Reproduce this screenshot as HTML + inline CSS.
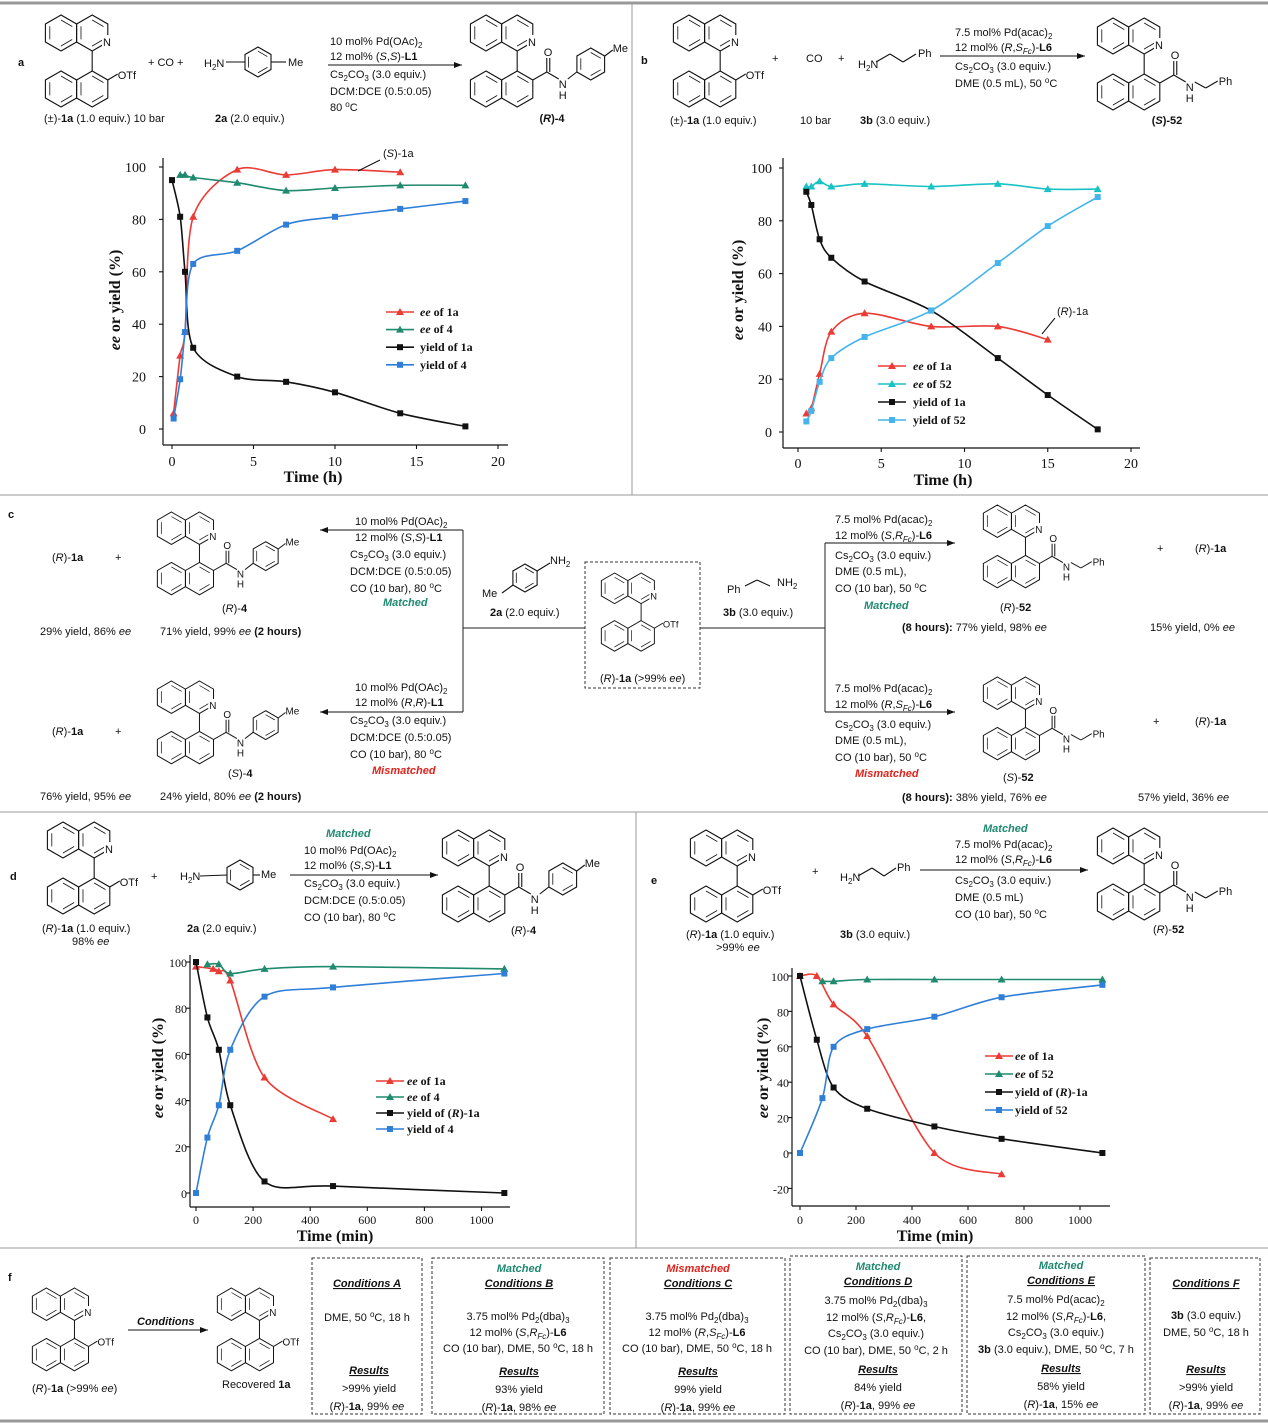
<!DOCTYPE html>
<html><head><meta charset="utf-8"><style>
html,body{margin:0;padding:0;background:#fff}
svg{display:block}
.s{font-family:"Liberation Sans",sans-serif;font-size:11px;fill:#111}
.c{font-family:"Liberation Serif",serif;font-size:14px;fill:#111}
.cs{font-family:"Liberation Serif",serif;font-size:12px;fill:#111}
.lg{font-family:"Liberation Serif",serif;font-size:12px;fill:#111;font-weight:bold}
.ax{font-family:"Liberation Serif",serif;font-size:16px;font-weight:bold;fill:#111}
.b{font-weight:bold}.i{font-style:italic}
.g{fill:#1f8a70;font-weight:bold;font-style:italic}
.r{fill:#e0231c;font-weight:bold;font-style:italic}
.m{text-anchor:middle}
</style></head><body>
<svg id="s" width="1268" height="1426" viewBox="0 0 1268 1426" xmlns="http://www.w3.org/2000/svg">
<rect width="1268" height="1426" fill="#fff"/>
<g stroke="#999" fill="none">
<line x1="0" y1="3" x2="1268" y2="3" stroke-width="3"/>
<line x1="632" y1="3" x2="632" y2="495"/>
<line x1="0" y1="495" x2="1268" y2="495"/>
<line x1="0" y1="812" x2="1268" y2="812"/>
<line x1="636" y1="812" x2="636" y2="1248"/>
<line x1="0" y1="1248" x2="1268" y2="1248"/>
<line x1="0" y1="1421" x2="1268" y2="1421" stroke-width="3"/>
</g>
<g stroke="#333" fill="none" stroke-dasharray="3,2">
<rect x="312" y="1258" width="110" height="156"/>
<rect x="432" y="1258" width="172" height="156"/>
<rect x="610" y="1258" width="175" height="156"/>
<rect x="790" y="1256" width="172" height="158"/>
<rect x="967" y="1256" width="178" height="158"/>
<rect x="1150" y="1258" width="110" height="156"/>
<rect x="585" y="562" width="115" height="126"/>
</g>
<g id="mols"></g>
<g id="charts"></g>
<g stroke="#222" fill="none" stroke-width="1">
<line x1="463" y1="530" x2="463" y2="712"/><line x1="463" y1="628" x2="585" y2="628"/>
<line x1="700" y1="628" x2="825" y2="628"/><line x1="825" y1="543" x2="825" y2="712"/>
</g>

<!-- Panel a -->
<text class="s b" x="18" y="66">a</text>
<text class="s" x="44" y="122">(±)-<tspan class="b">1a</tspan> (1.0  equiv.)  10 bar</text>
<text class="s" x="215" y="122"><tspan class="b">2a</tspan> (2.0  equiv.)</text>
<text class="s" x="148" y="66">+  CO  +</text>
<text class="s" x="204" y="67">H<tspan font-size="8" dy="3">2</tspan><tspan dy="-3">N</tspan></text>
<text class="s" x="288" y="66">Me</text>
<text class="s" x="330" y="45">10 mol% Pd(OAc)<tspan font-size="8" dy="3">2</tspan></text>
<text class="s" x="330" y="60">12 mol% (<tspan class="i">S</tspan>,<tspan class="i">S</tspan>)-<tspan class="b">L1</tspan></text>
<text class="s" x="330" y="78">Cs<tspan font-size="8" dy="3">2</tspan><tspan dy="-3">CO</tspan><tspan font-size="8" dy="3">3</tspan><tspan dy="-3"> (3.0 equiv.)</tspan></text>
<text class="s" x="330" y="95">DCM:DCE (0.5:0.05)</text>
<text class="s" x="330" y="111">80 <tspan font-size="8" dy="-4">o</tspan><tspan dy="4">C</tspan></text>
<text class="s b m" x="552" y="122">(<tspan class="i">R</tspan>)-4</text>
<text class="s" x="383" y="157">(<tspan class="i">S</tspan>)-1a</text>
<text class="lg" x="420" y="316"><tspan class="i">ee</tspan> of 1a</text>
<text class="lg" x="420" y="333"><tspan class="i">ee</tspan> of 4</text>
<text class="lg" x="420" y="351">yield of 1a</text>
<text class="lg" x="420" y="369">yield of 4</text>
<text class="ax m" x="313" y="482">Time (h)</text>
<text class="ax m" transform="translate(120,300) rotate(-90)"><tspan class="i">ee</tspan> or yield (%)</text>

<!-- Panel b -->
<text class="s b" x="641" y="64">b</text>
<text class="s" x="670" y="124">(±)-<tspan class="b">1a</tspan> (1.0  equiv.)</text>
<text class="s" x="800" y="124">10 bar</text>
<text class="s" x="860" y="124"><tspan class="b">3b</tspan> (3.0  equiv.)</text>
<text class="s" x="772" y="62">+</text><text class="s" x="806" y="62">CO</text><text class="s" x="838" y="62">+</text>
<text class="s" x="858" y="68">H<tspan font-size="8" dy="3">2</tspan><tspan dy="-3">N</tspan></text>
<text class="s" x="918" y="57">Ph</text>
<text class="s" x="955" y="36">7.5 mol% Pd(acac)<tspan font-size="8" dy="3">2</tspan></text>
<text class="s" x="955" y="51">12 mol% (<tspan class="i">R</tspan>,<tspan class="i">S</tspan><tspan font-size="8" dy="3" class="i">Fc</tspan><tspan dy="-3">)-</tspan><tspan class="b">L6</tspan></text>
<text class="s" x="955" y="70">Cs<tspan font-size="8" dy="3">2</tspan><tspan dy="-3">CO</tspan><tspan font-size="8" dy="3">3</tspan><tspan dy="-3"> (3.0 equiv.)</tspan></text>
<text class="s" x="955" y="87">DME (0.5 mL), 50 <tspan font-size="8" dy="-4">o</tspan><tspan dy="4">C</tspan></text>
<text class="s b m" x="1167" y="124">(<tspan class="i">S</tspan>)-52</text>
<text class="s" x="1057" y="315">(<tspan class="i">R</tspan>)-1a</text>
<text class="lg" x="913" y="370"><tspan class="i">ee</tspan> of 1a</text>
<text class="lg" x="913" y="388"><tspan class="i">ee</tspan> of 52</text>
<text class="lg" x="913" y="406">yield of 1a</text>
<text class="lg" x="913" y="424">yield of 52</text>
<text class="ax m" x="943" y="485">Time (h)</text>
<text class="ax m" transform="translate(743,290) rotate(-90)"><tspan class="i">ee</tspan> or yield (%)</text>

<!-- Panel c -->
<text class="s b" x="8" y="518">c</text>
<text class="s" x="52" y="561">(<tspan class="i">R</tspan>)-<tspan class="b">1a</tspan></text><text class="s" x="115" y="561">+</text>
<text class="s" x="222" y="612">(<tspan class="i">R</tspan>)-<tspan class="b">4</tspan></text>
<text class="s" x="355" y="525">10 mol% Pd(OAc)<tspan font-size="8" dy="3">2</tspan></text>
<text class="s" x="355" y="541">12 mol% (<tspan class="i">S</tspan>,<tspan class="i">S</tspan>)-<tspan class="b">L1</tspan></text>
<text class="s" x="350" y="558">Cs<tspan font-size="8" dy="3">2</tspan><tspan dy="-3">CO</tspan><tspan font-size="8" dy="3">3</tspan><tspan dy="-3"> (3.0 equiv.)</tspan></text>
<text class="s" x="350" y="575">DCM:DCE (0.5:0.05)</text>
<text class="s" x="350" y="592">CO (10 bar), 80 <tspan font-size="8" dy="-4">o</tspan><tspan dy="4">C</tspan></text>
<text class="s g" x="383" y="606">Matched</text>
<text class="s" x="40" y="635">29% yield, 86% <tspan class="i">ee</tspan></text>
<text class="s" x="160" y="635">71% yield, 99% <tspan class="i">ee</tspan>  <tspan class="b">(2 hours)</tspan></text>
<text class="s" x="52" y="735">(<tspan class="i">R</tspan>)-<tspan class="b">1a</tspan></text><text class="s" x="115" y="735">+</text>
<text class="s" x="228" y="777">(<tspan class="i">S</tspan>)-<tspan class="b">4</tspan></text>
<text class="s" x="355" y="691">10 mol% Pd(OAc)<tspan font-size="8" dy="3">2</tspan></text>
<text class="s" x="355" y="706">12 mol% (<tspan class="i">R</tspan>,<tspan class="i">R</tspan>)-<tspan class="b">L1</tspan></text>
<text class="s" x="350" y="724">Cs<tspan font-size="8" dy="3">2</tspan><tspan dy="-3">CO</tspan><tspan font-size="8" dy="3">3</tspan><tspan dy="-3"> (3.0 equiv.)</tspan></text>
<text class="s" x="350" y="741">DCM:DCE (0.5:0.05)</text>
<text class="s" x="350" y="758">CO (10 bar), 80 <tspan font-size="8" dy="-4">o</tspan><tspan dy="4">C</tspan></text>
<text class="s r" x="372" y="774">Mismatched</text>
<text class="s" x="40" y="800">76% yield, 95% <tspan class="i">ee</tspan></text>
<text class="s" x="160" y="800">24% yield, 80% <tspan class="i">ee</tspan>  <tspan class="b">(2 hours)</tspan></text>
<text class="s" x="482" y="597">Me</text>
<text class="s" x="550" y="564">NH<tspan font-size="8" dy="3">2</tspan></text>
<text class="s" x="490" y="616"><tspan class="b">2a</tspan> (2.0  equiv.)</text>
<text class="s" x="600" y="682">(<tspan class="i">R</tspan>)-<tspan class="b">1a</tspan> (&gt;99% <tspan class="i">ee</tspan>)</text>
<text class="s" x="727" y="593">Ph</text>
<text class="s" x="777" y="586">NH<tspan font-size="8" dy="3">2</tspan></text>
<text class="s" x="723" y="616"><tspan class="b">3b</tspan> (3.0  equiv.)</text>
<text class="s" x="835" y="523">7.5 mol% Pd(acac)<tspan font-size="8" dy="3">2</tspan></text>
<text class="s" x="835" y="539">12 mol% (<tspan class="i">S</tspan>,<tspan class="i">R</tspan><tspan font-size="8" dy="3" class="i">Fc</tspan><tspan dy="-3">)-</tspan><tspan class="b">L6</tspan></text>
<text class="s" x="835" y="559">Cs<tspan font-size="8" dy="3">2</tspan><tspan dy="-3">CO</tspan><tspan font-size="8" dy="3">3</tspan><tspan dy="-3"> (3.0 equiv.)</tspan></text>
<text class="s" x="835" y="575">DME (0.5 mL),</text>
<text class="s" x="835" y="592">CO (10 bar), 50 <tspan font-size="8" dy="-4">o</tspan><tspan dy="4">C</tspan></text>
<text class="s g" x="864" y="609">Matched</text>
<text class="s" x="1000" y="611">(<tspan class="i">R</tspan>)-<tspan class="b">52</tspan></text>
<text class="s" x="1157" y="552">+</text><text class="s" x="1195" y="552">(<tspan class="i">R</tspan>)-<tspan class="b">1a</tspan></text>
<text class="s" x="902" y="631"><tspan class="b">(8 hours):</tspan>  77% yield, 98% <tspan class="i">ee</tspan></text>
<text class="s" x="1150" y="631">15% yield, 0% <tspan class="i">ee</tspan></text>
<text class="s" x="835" y="692">7.5 mol% Pd(acac)<tspan font-size="8" dy="3">2</tspan></text>
<text class="s" x="835" y="708">12 mol% (<tspan class="i">R</tspan>,<tspan class="i">S</tspan><tspan font-size="8" dy="3" class="i">Fc</tspan><tspan dy="-3">)-</tspan><tspan class="b">L6</tspan></text>
<text class="s" x="835" y="728">Cs<tspan font-size="8" dy="3">2</tspan><tspan dy="-3">CO</tspan><tspan font-size="8" dy="3">3</tspan><tspan dy="-3"> (3.0 equiv.)</tspan></text>
<text class="s" x="835" y="744">DME (0.5 mL),</text>
<text class="s" x="835" y="761">CO (10 bar), 50 <tspan font-size="8" dy="-4">o</tspan><tspan dy="4">C</tspan></text>
<text class="s r" x="855" y="777">Mismatched</text>
<text class="s" x="1003" y="781">(<tspan class="i">S</tspan>)-<tspan class="b">52</tspan></text>
<text class="s" x="1153" y="725">+</text><text class="s" x="1195" y="725">(<tspan class="i">R</tspan>)-<tspan class="b">1a</tspan></text>
<text class="s" x="902" y="801"><tspan class="b">(8 hours):</tspan>  38% yield, 76% <tspan class="i">ee</tspan></text>
<text class="s" x="1138" y="801">57% yield, 36% <tspan class="i">ee</tspan></text>

<!-- Panel d -->
<text class="s b" x="10" y="880">d</text>
<text class="s" x="42" y="932">(<tspan class="i">R</tspan>)-<tspan class="b">1a</tspan> (1.0  equiv.)</text>
<text class="s" x="72" y="945">98% <tspan class="i">ee</tspan></text>
<text class="s" x="151" y="880">+</text>
<text class="s" x="180" y="880">H<tspan font-size="8" dy="3">2</tspan><tspan dy="-3">N</tspan></text>
<text class="s" x="261" y="878">Me</text>
<text class="s" x="187" y="932"><tspan class="b">2a</tspan> (2.0  equiv.)</text>
<text class="s g" x="326" y="837">Matched</text>
<text class="s" x="304" y="854">10 mol% Pd(OAc)<tspan font-size="8" dy="3">2</tspan></text>
<text class="s" x="304" y="869">12 mol% (<tspan class="i">S</tspan>,<tspan class="i">S</tspan>)-<tspan class="b">L1</tspan></text>
<text class="s" x="304" y="887">Cs<tspan font-size="8" dy="3">2</tspan><tspan dy="-3">CO</tspan><tspan font-size="8" dy="3">3</tspan><tspan dy="-3"> (3.0 equiv.)</tspan></text>
<text class="s" x="304" y="904">DCM:DCE (0.5:0.05)</text>
<text class="s" x="304" y="921">CO (10 bar), 80 <tspan font-size="8" dy="-4">o</tspan><tspan dy="4">C</tspan></text>
<text class="s" x="511" y="934">(<tspan class="i">R</tspan>)-<tspan class="b">4</tspan></text>
<text class="lg" x="407" y="1085"><tspan class="i">ee</tspan> of 1a</text>
<text class="lg" x="407" y="1101"><tspan class="i">ee</tspan> of 4</text>
<text class="lg" x="407" y="1117">yield of (<tspan class="i">R</tspan>)-1a</text>
<text class="lg" x="407" y="1133">yield of 4</text>
<text class="ax m" x="335" y="1241" font-size="14">Time (min)</text>
<text class="ax m" font-size="14" transform="translate(163,1068) rotate(-90)"><tspan class="i">ee</tspan> or yield (%)</text>

<!-- Panel e -->
<text class="s b" x="651" y="884">e</text>
<text class="s" x="686" y="938">(<tspan class="i">R</tspan>)-<tspan class="b">1a</tspan> (1.0  equiv.)</text>
<text class="s" x="716" y="951">&gt;99% <tspan class="i">ee</tspan></text>
<text class="s" x="812" y="875">+</text>
<text class="s" x="840" y="881">H<tspan font-size="8" dy="3">2</tspan><tspan dy="-3">N</tspan></text>
<text class="s" x="897" y="871">Ph</text>
<text class="s" x="840" y="938"><tspan class="b">3b</tspan> (3.0  equiv.)</text>
<text class="s g" x="983" y="832">Matched</text>
<text class="s" x="955" y="848">7.5 mol% Pd(acac)<tspan font-size="8" dy="3">2</tspan></text>
<text class="s" x="955" y="863">12 mol% (<tspan class="i">S</tspan>,<tspan class="i">R</tspan><tspan font-size="8" dy="3" class="i">Fc</tspan><tspan dy="-3">)-</tspan><tspan class="b">L6</tspan></text>
<text class="s" x="955" y="884">Cs<tspan font-size="8" dy="3">2</tspan><tspan dy="-3">CO</tspan><tspan font-size="8" dy="3">3</tspan><tspan dy="-3"> (3.0 equiv.)</tspan></text>
<text class="s" x="955" y="901">DME (0.5 mL)</text>
<text class="s" x="955" y="918">CO (10 bar), 50 <tspan font-size="8" dy="-4">o</tspan><tspan dy="4">C</tspan></text>
<text class="s" x="1153" y="933">(<tspan class="i">R</tspan>)-<tspan class="b">52</tspan></text>
<text class="lg" x="1015" y="1060"><tspan class="i">ee</tspan> of 1a</text>
<text class="lg" x="1015" y="1078"><tspan class="i">ee</tspan> of 52</text>
<text class="lg" x="1015" y="1096">yield of (<tspan class="i">R</tspan>)-1a</text>
<text class="lg" x="1015" y="1114">yield of 52</text>
<text class="ax m" x="935" y="1241" font-size="14">Time (min)</text>
<text class="ax m" font-size="14" transform="translate(768,1068) rotate(-90)"><tspan class="i">ee</tspan> or yield (%)</text>

<!-- Panel f -->
<text class="s b" x="8" y="1281">f</text>
<text class="s" x="32" y="1392">(<tspan class="i">R</tspan>)-<tspan class="b">1a</tspan> (&gt;99% <tspan class="i">ee</tspan>)</text>
<text class="s b i" x="137" y="1325">Conditions</text>
<text class="s" x="222" y="1388">Recovered <tspan class="b">1a</tspan></text>
<g class="s m">
<text class="s b i m" x="367" y="1287" text-decoration="underline">Conditions A</text>
<text class="s m" x="367" y="1321">DME, 50 <tspan font-size="8" dy="-4">o</tspan><tspan dy="4">C, 18 h</tspan></text>
<text class="s b i m" x="369" y="1374" text-decoration="underline">Results</text>
<text class="s m" x="369" y="1392">&gt;99% yield</text>
<text class="s m" x="367" y="1410">(<tspan class="i">R</tspan>)-<tspan class="b">1a</tspan>, 99% <tspan class="i">ee</tspan></text>

<text class="s g m" x="519" y="1272">Matched</text>
<text class="s b i m" x="519" y="1287" text-decoration="underline">Conditions B</text>
<text class="s m" x="518" y="1320">3.75 mol% Pd<tspan font-size="8" dy="3">2</tspan><tspan dy="-3">(dba)</tspan><tspan font-size="8" dy="3">3</tspan></text>
<text class="s m" x="518" y="1336">12 mol% (<tspan class="i">S</tspan>,<tspan class="i">R</tspan><tspan font-size="8" dy="3" class="i">Fc</tspan><tspan dy="-3">)-</tspan><tspan class="b">L6</tspan></text>
<text class="s m" x="518" y="1352">CO (10 bar), DME, 50 <tspan font-size="8" dy="-4">o</tspan><tspan dy="4">C, 18 h</tspan></text>
<text class="s b i m" x="519" y="1375" text-decoration="underline">Results</text>
<text class="s m" x="519" y="1393">93% yield</text>
<text class="s m" x="519" y="1411">(<tspan class="i">R</tspan>)-<tspan class="b">1a</tspan>, 98% <tspan class="i">ee</tspan></text>

<text class="s r m" x="698" y="1272">Mismatched</text>
<text class="s b i m" x="698" y="1287" text-decoration="underline">Conditions C</text>
<text class="s m" x="697" y="1320">3.75 mol% Pd<tspan font-size="8" dy="3">2</tspan><tspan dy="-3">(dba)</tspan><tspan font-size="8" dy="3">3</tspan></text>
<text class="s m" x="697" y="1336">12 mol% (<tspan class="i">R</tspan>,<tspan class="i">S</tspan><tspan font-size="8" dy="3" class="i">Fc</tspan><tspan dy="-3">)-</tspan><tspan class="b">L6</tspan></text>
<text class="s m" x="697" y="1352">CO (10 bar), DME, 50 <tspan font-size="8" dy="-4">o</tspan><tspan dy="4">C, 18 h</tspan></text>
<text class="s b i m" x="698" y="1375" text-decoration="underline">Results</text>
<text class="s m" x="698" y="1393">99% yield</text>
<text class="s m" x="698" y="1411">(<tspan class="i">R</tspan>)-<tspan class="b">1a</tspan>, 99% <tspan class="i">ee</tspan></text>

<text class="s g m" x="878" y="1270">Matched</text>
<text class="s b i m" x="878" y="1285" text-decoration="underline">Conditions D</text>
<text class="s m" x="876" y="1304">3.75 mol% Pd<tspan font-size="8" dy="3">2</tspan><tspan dy="-3">(dba)</tspan><tspan font-size="8" dy="3">3</tspan></text>
<text class="s m" x="876" y="1321">12 mol% (<tspan class="i">S</tspan>,<tspan class="i">R</tspan><tspan font-size="8" dy="3" class="i">Fc</tspan><tspan dy="-3">)-</tspan><tspan class="b">L6</tspan>,</text>
<text class="s m" x="876" y="1337">Cs<tspan font-size="8" dy="3">2</tspan><tspan dy="-3">CO</tspan><tspan font-size="8" dy="3">3</tspan><tspan dy="-3"> (3.0 equiv.)</tspan></text>
<text class="s m" x="876" y="1354">CO (10 bar), DME, 50 <tspan font-size="8" dy="-4">o</tspan><tspan dy="4">C, 2 h</tspan></text>
<text class="s b i m" x="878" y="1373" text-decoration="underline">Results</text>
<text class="s m" x="878" y="1391">84% yield</text>
<text class="s m" x="878" y="1409">(<tspan class="i">R</tspan>)-<tspan class="b">1a</tspan>, 99% <tspan class="i">ee</tspan></text>

<text class="s g m" x="1061" y="1269">Matched</text>
<text class="s b i m" x="1061" y="1284" text-decoration="underline">Conditions E</text>
<text class="s m" x="1056" y="1303">7.5 mol% Pd(acac)<tspan font-size="8" dy="3">2</tspan></text>
<text class="s m" x="1056" y="1320">12 mol% (<tspan class="i">S</tspan>,<tspan class="i">R</tspan><tspan font-size="8" dy="3" class="i">Fc</tspan><tspan dy="-3">)-</tspan><tspan class="b">L6</tspan>,</text>
<text class="s m" x="1056" y="1336">Cs<tspan font-size="8" dy="3">2</tspan><tspan dy="-3">CO</tspan><tspan font-size="8" dy="3">3</tspan><tspan dy="-3"> (3.0 equiv.)</tspan></text>
<text class="s m" x="1056" y="1353"><tspan class="b">3b</tspan> (3.0 equiv.), DME, 50 <tspan font-size="8" dy="-4">o</tspan><tspan dy="4">C, 7 h</tspan></text>
<text class="s b i m" x="1061" y="1372" text-decoration="underline">Results</text>
<text class="s m" x="1061" y="1390">58% yield</text>
<text class="s m" x="1061" y="1408">(<tspan class="i">R</tspan>)-<tspan class="b">1a</tspan>, 15% <tspan class="i">ee</tspan></text>

<text class="s b i m" x="1206" y="1287" text-decoration="underline">Conditions F</text>
<text class="s m" x="1206" y="1319"><tspan class="b">3b</tspan> (3.0 equiv.)</text>
<text class="s m" x="1206" y="1336">DME, 50 <tspan font-size="8" dy="-4">o</tspan><tspan dy="4">C, 18 h</tspan></text>
<text class="s b i m" x="1206" y="1373" text-decoration="underline">Results</text>
<text class="s m" x="1206" y="1391">&gt;99% yield</text>
<text class="s m" x="1206" y="1409">(<tspan class="i">R</tspan>)-<tspan class="b">1a</tspan>, 99% <tspan class="i">ee</tspan></text>
</g>
</svg>
<script>
var NS="http://www.w3.org/2000/svg";
function E(p,t,a,txt){var e=document.createElementNS(NS,t);for(var k in a)e.setAttribute(k,a[k]);if(txt!=null)e.textContent=txt;p.appendChild(e);return e;}
var M=document.getElementById('mols'),C=document.getElementById('charts');
function hexPts(cx,cy,r){var p=[];for(var i=0;i<6;i++){var a=(-90+60*i)*Math.PI/180;p.push((cx+r*Math.cos(a)).toFixed(1)+","+(cy+r*Math.sin(a)).toFixed(1));}return p.join(" ");}
function hex(g,cx,cy,r){E(g,'polygon',{points:hexPts(cx,cy,r),fill:'none',stroke:'#111','stroke-width':1.1});
 E(g,'polygon',{points:hexPts(cx,cy,r*0.72),fill:'none',stroke:'#111','stroke-width':0.8,'stroke-dasharray':(r*0.72).toFixed(1)+','+(r*0.72).toFixed(1)});}
function L(g,a,b,c,d,w){E(g,'line',{x1:a,y1:b,x2:c,y2:d,stroke:'#111','stroke-width':w||1.1});}
function T(g,x,y,t,fs){E(g,'text',{x:x,y:y,'font-family':'Liberation Sans, sans-serif','font-size':fs||11,fill:'#111'},t);}
function mol(x,y,s,type){
 var g=E(M,'g',{transform:'translate('+x+','+y+') scale('+s+')'});var r=18,w=r*Math.sqrt(3)/2;
 hex(g,16,18,r);hex(g,16+2*w,18,r);hex(g,16,74,r);hex(g,16+2*w,74,r);
 L(g,16+2*w,36,16+2*w,56);
 E(g,'rect',{x:57,y:20,width:10,height:12,fill:'#fff'});T(g,58,31,'N');
 var vx=16+3*w,vy=65;
 if(type=='a'){L(g,vx,vy,vx+10,vy-6);T(g,vx+10,vy-1,'OTf');return;}
 L(g,vx,vy,vx+14,vy-8);L(g,vx+14,vy-8,vx+14,vy-22);L(g,vx+17,vy-8,vx+17,vy-22);T(g,vx+11,vy-24,'O');
 L(g,vx+14,vy-8,vx+26,vy-1);T(g,vx+26,vy+8,'N');T(g,vx+26,vy+19,'H');
 if(type=='ar'){L(g,vx+35,vy-1,vx+44,vy-8);hex(g,vx+58,vy-16,16);L(g,vx+72,vy-24,vx+80,vy-30);T(g,vx+80,vy-28,'Me');}
 else{L(g,vx+35,vy-1,vx+46,vy+5);L(g,vx+46,vy+5,vx+58,vy-2);T(g,vx+59,vy+2,'Ph');}
}
function arrow(x1,y1,x2,y2){L(M,x1,y1,x2,y2,1);var d=x2>x1?1:-1;E(M,'polygon',{points:x2+','+y2+' '+(x2-8*d)+','+(y2-3)+' '+(x2-8*d)+','+(y2+3),fill:'#111'});}
mol(45,15,1,'a');
var ga=E(M,'g',{});hex(ga,258,62,15);L(ga,226,62,245,62);L(ga,271,62,286,62);
arrow(328,65,462,65);mol(470,15,1,'ar');
mol(673,15,1,'a');var gb=E(M,'g',{});L(gb,876,62,890,54);L(gb,890,54,903,62);L(gb,903,62,916,54);
arrow(940,56,1085,56);mol(1097,18,1,'ph');
mol(157,512,0.9,'ar');mol(157,681,0.9,'ar');
arrow(463,530,320,530);arrow(463,712,320,712);
var gc=E(M,'g',{});hex(gc,525,578,14);L(gc,537,571,550,563);L(gc,513,585,502,593);
L(gc,745,586,757,580);L(gc,757,580,770,586);
mol(601,573,0.85,'a');
arrow(825,543,955,543);arrow(825,712,955,712);
mol(983,505,0.9,'ph');mol(983,677,0.9,'ph');
mol(47,822,1,'a');var gd=E(M,'g',{});hex(gd,240,875,15);L(gd,200,876,227,875);L(gd,253,875,260,875);
arrow(290,875,438,875);mol(442,830,1,'ar');
mol(690,830,1,'a');var ge=E(M,'g',{});L(ge,858,876,872,868);L(ge,872,868,884,876);L(ge,884,876,896,868);
arrow(920,870,1088,870);mol(1097,828,1,'ph');
mol(32,1288,0.9,'a');arrow(128,1330,208,1330);mol(217,1288,0.9,'a');

function smooth(p){var d='M'+p[0][0].toFixed(1)+','+p[0][1].toFixed(1);var t=0.15;
 for(var i=0;i<p.length-1;i++){var p0=p[i-1]||p[i],p1=p[i],p2=p[i+1],p3=p[i+2]||p2;
  var c1=[p1[0]+(p2[0]-p0[0])*t,p1[1]+(p2[1]-p0[1])*t],c2=[p2[0]-(p3[0]-p1[0])*t,p2[1]-(p3[1]-p1[1])*t];
  d+=' C'+c1[0].toFixed(1)+','+c1[1].toFixed(1)+' '+c2[0].toFixed(1)+','+c2[1].toFixed(1)+' '+p2[0].toFixed(1)+','+p2[1].toFixed(1);}
 return d;}
function chart(o){
 var g=E(C,'g',{});
 L(g,o.axL,o.top,o.axL,o.axB,1.2);L(g,o.axL,o.axB,o.right,o.axB,1.2);
 o.xt.forEach(function(v){var x=o.x0+v*o.kx;L(g,x,o.axB,x,o.axB+4);E(g,'text',{x:x,y:o.xly,'text-anchor':'middle','class':o.tc},String(v));});
 o.yt.forEach(function(v){var y=o.y0-v*o.ky;L(g,o.axL,y,o.axL-4,y);E(g,'text',{x:o.ylx,y:y+5,'text-anchor':'end','class':o.tc},String(v));});
 o.s.forEach(function(s){
  var pts=s.d.map(function(p){return [o.x0+p[0]*o.kx,o.y0-p[1]*o.ky];});
  E(g,'path',{d:smooth(pts),fill:'none',stroke:s.c,'stroke-width':1.6,'stroke-linejoin':'round'});
  pts.forEach(function(p){mk(g,p[0],p[1],s.m,s.c);});
  var ly=o.ly0+s.li*o.ldy;E(g,'line',{x1:o.lx,y1:ly,x2:o.lx+28,y2:ly,stroke:s.c,'stroke-width':1.6});mk(g,o.lx+14,ly,s.m,s.c);
 });
 return g;
}
function mk(g,x,y,m,c){if(m=='t')E(g,'polygon',{points:x+','+(y-4)+' '+(x-4)+','+(y+3)+' '+(x+4)+','+(y+3),fill:c});else E(g,'rect',{x:x-3,y:y-3,width:6,height:6,fill:c});}
var RED='#ea3b35',GRN='#1f8a6e',BLK='#111',BLU='#2f7fd8';
chart({axL:163,axB:445,top:158,right:508,x0:172,kx:16.3,y0:429,ky:2.62,xt:[0,5,10,15,20],yt:[0,20,40,60,80,100],xly:466,ylx:146,tc:'c',lx:386,ly0:312,ldy:17.6,
 s:[{c:RED,m:'t',li:0,d:[[0.1,6],[0.5,28],[0.8,37],[1.3,81],[4,99],[7,97],[10,99],[14,98]]},
 {c:GRN,m:'t',li:1,d:[[0.5,97],[0.8,97],[1.3,96],[4,94],[7,91],[10,92],[14,93],[18,93]]},
 {c:BLK,m:'s',li:2,d:[[0,95],[0.5,81],[0.8,60],[1.3,31],[4,20],[7,18],[10,14],[14,6],[18,1]]},
 {c:BLU,m:'s',li:3,d:[[0.1,4],[0.5,19],[0.8,37],[1.3,63],[4,68],[7,78],[10,81],[14,84],[18,87]]}]});
chart({axL:783,axB:448,top:158,right:1140,x0:798,kx:16.65,y0:432,ky:2.64,xt:[0,5,10,15,20],yt:[0,20,40,60,80,100],xly:468,ylx:772,tc:'c',lx:878,ly0:366,ldy:18,
 s:[{c:RED,m:'t',li:0,d:[[0.5,7],[0.8,9],[1.3,22],[2,38],[4,45],[8,40],[12,40],[15,35]]},
 {c:'#19c2c4',m:'t',li:1,d:[[0.5,93],[0.8,93],[1.3,95],[2,93],[4,94],[8,93],[12,94],[15,92],[18,92]]},
 {c:BLK,m:'s',li:2,d:[[0.5,91],[0.8,86],[1.3,73],[2,66],[4,57],[8,46],[12,28],[15,14],[18,1]]},
 {c:'#44b4ec',m:'s',li:3,d:[[0.5,4],[0.8,8],[1.3,19],[2,28],[4,36],[8,46],[12,64],[15,78],[18,89]]}]});
chart({axL:190,axB:1207,top:955,right:510,x0:196,kx:0.2855,y0:1193,ky:2.31,xt:[0,200,400,600,800,1000],yt:[0,20,40,60,80,100],xly:1224,ylx:187,tc:'cs',lx:376,ly0:1081,ldy:16,
 s:[{c:RED,m:'t',li:0,d:[[0,98],[60,97],[80,96],[120,92],[240,50],[480,32]]},
 {c:GRN,m:'t',li:1,d:[[40,99],[80,99],[120,95],[240,97],[480,98],[1080,97]]},
 {c:BLK,m:'s',li:2,d:[[0,100],[40,76],[80,62],[120,38],[240,5],[480,3],[1080,0]]},
 {c:BLU,m:'s',li:3,d:[[0,0],[40,24],[80,38],[120,62],[240,85],[480,89],[1080,95]]}]});
chart({axL:792,axB:1206,top:968,right:1110,x0:800,kx:0.28,y0:1153,ky:1.77,xt:[0,200,400,600,800,1000],yt:[-20,0,20,40,60,80,100],xly:1224,ylx:789,tc:'cs',lx:985,ly0:1056,ldy:18,
 s:[{c:RED,m:'t',li:0,d:[[0,100],[60,100],[120,84],[240,66],[480,0],[720,-12]]},
 {c:GRN,m:'t',li:1,d:[[80,97],[120,97],[240,98],[480,98],[720,98],[1080,98]]},
 {c:BLK,m:'s',li:2,d:[[0,100],[60,64],[120,37],[240,25],[480,15],[720,8],[1080,0]]},
 {c:BLU,m:'s',li:3,d:[[0,0],[80,31],[120,60],[240,70],[480,77],[720,88],[1080,95]]}]});
L(C,380,160,358,171,1);L(C,1055,318,1042,334,1);
</script>
</body></html>
